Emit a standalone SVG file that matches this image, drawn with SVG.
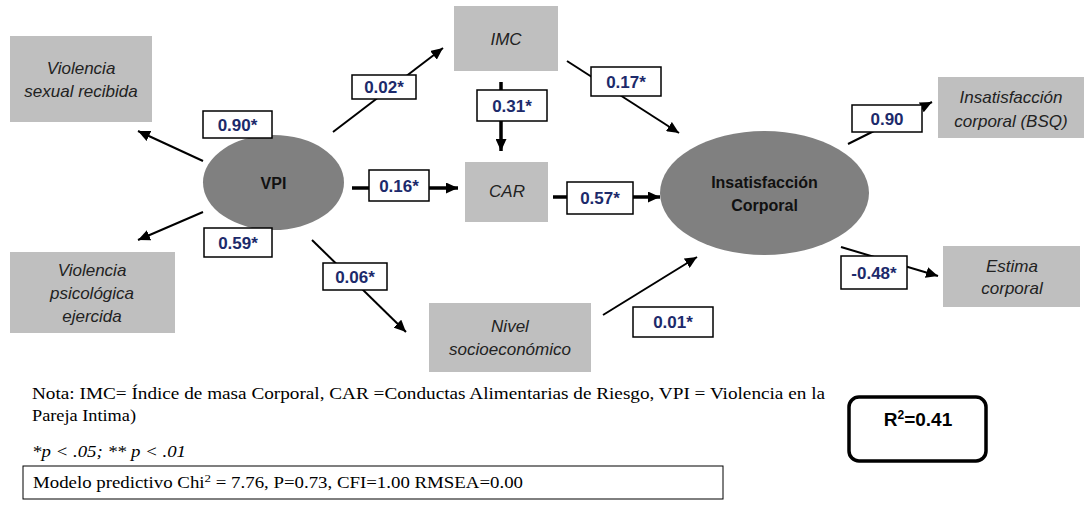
<svg xmlns="http://www.w3.org/2000/svg" width="1091" height="508" viewBox="0 0 1091 508">
<defs>
<marker id="ah" markerUnits="userSpaceOnUse" markerWidth="13" markerHeight="11" refX="12" refY="5.5" orient="auto">
<path d="M0,0 L12,5.5 L0,11 z" fill="#000"/>
</marker>
</defs>
<style>
.obs{fill:#bfbfbf}
.lat{fill:#808080}
.ot{font-family:"Liberation Sans",Arial,sans-serif;font-style:italic;font-size:17px;fill:#222;text-anchor:middle}
.lt{font-family:"Liberation Sans",Arial,sans-serif;font-weight:bold;font-size:16px;fill:#111;text-anchor:middle}
.lb{fill:#fff;stroke:#000;stroke-width:1.5}
.lbt{font-family:"Liberation Sans",Arial,sans-serif;font-weight:bold;font-size:17px;fill:#1c2a6b;text-anchor:middle}
.c{stroke:#000;stroke-width:2;fill:none}
.ck{stroke:#000;stroke-width:3.5;fill:none}
.nt{font-family:"Liberation Serif","Times New Roman",serif;font-size:16px;fill:#000}
</style>
<g id="connectors">
<line class="c" x1="203" y1="161" x2="138" y2="131" marker-end="url(#ah)"/>
<line class="c" x1="203" y1="212" x2="138" y2="240" marker-end="url(#ah)"/>
<line class="c" x1="333" y1="132" x2="443" y2="48" marker-end="url(#ah)"/>
<line class="ck" x1="352" y1="188" x2="458" y2="188" marker-end="url(#ah)"/>
<line class="c" x1="312" y1="240" x2="406" y2="332" marker-end="url(#ah)"/>
<line class="ck" x1="501" y1="82" x2="501" y2="151" marker-end="url(#ah)"/>
<line class="c" x1="567" y1="61" x2="679" y2="133" marker-end="url(#ah)"/>
<line class="ck" x1="553" y1="197" x2="660" y2="197" marker-end="url(#ah)"/>
<line class="c" x1="603" y1="315" x2="697" y2="257" marker-end="url(#ah)"/>
<line class="c" x1="848" y1="144" x2="932" y2="102" marker-end="url(#ah)"/>
<line class="c" x1="841" y1="247" x2="938" y2="276" marker-end="url(#ah)"/>
</g>
<g id="node-violencia-sexual">
<rect class="obs" x="10" y="36" width="142" height="86"/>
<text class="ot" x="81" y="74">Violencia</text>
<text class="ot" x="81" y="97">sexual recibida</text>
</g>
<g id="node-violencia-psicologica">
<rect class="obs" x="10" y="252" width="165" height="81"/>
<text class="ot" x="92" y="276">Violencia</text>
<text class="ot" x="92" y="299">psicológica</text>
<text class="ot" x="92" y="322">ejercida</text>
</g>
<g id="node-vpi">
<ellipse class="lat" cx="273.5" cy="182.5" rx="70.5" ry="47.5"/>
<text class="lt" x="273.5" y="189">VPI</text>
</g>
<g id="node-imc">
<rect class="obs" x="454" y="6" width="104" height="65"/>
<text class="ot" x="506" y="45">IMC</text>
</g>
<g id="node-car">
<rect class="obs" x="465" y="162" width="83" height="60"/>
<text class="ot" x="507" y="197">CAR</text>
</g>
<g id="node-nivel">
<rect class="obs" x="429" y="303" width="162" height="69"/>
<text class="ot" x="510" y="332">Nivel</text>
<text class="ot" x="510" y="355">socioeconómico</text>
</g>
<g id="node-insatisfaccion">
<ellipse class="lat" cx="764.5" cy="193" rx="104.5" ry="62"/>
<text class="lt" x="764.5" y="188">Insatisfacción</text>
<text class="lt" x="764.5" y="211">Corporal</text>
</g>
<g id="node-bsq">
<rect class="obs" x="938" y="77" width="146" height="61"/>
<text class="ot" x="1011" y="103">Insatisfacción</text>
<text class="ot" x="1011" y="127">corporal (BSQ)</text>
</g>
<g id="node-estima">
<rect class="obs" x="943" y="246" width="137" height="61"/>
<text class="ot" x="1012" y="272">Estima</text>
<text class="ot" x="1012" y="294">corporal</text>
</g>
<g id="labels">
<rect class="lb" x="203" y="111" width="69" height="27"/><text class="lbt" x="237.5" y="130.5">0.90*</text>
<rect class="lb" x="204" y="228" width="68" height="29"/><text class="lbt" x="238" y="248.5">0.59*</text>
<rect class="lb" x="352" y="75" width="64" height="24"/><text class="lbt" x="384" y="93">0.02*</text>
<rect class="lb" x="369" y="170" width="60" height="31"/><text class="lbt" x="399" y="191.5">0.16*</text>
<rect class="lb" x="323" y="263" width="64" height="27"/><text class="lbt" x="355" y="282.5">0.06*</text>
<rect class="lb" x="477" y="90" width="70" height="31"/><text class="lbt" x="512" y="111.5">0.31*</text>
<rect class="lb" x="591" y="67" width="70" height="29"/><text class="lbt" x="626" y="87.5">0.17*</text>
<rect class="lb" x="567" y="182" width="66" height="32"/><text class="lbt" x="600" y="204">0.57*</text>
<rect class="lb" x="633" y="307" width="80" height="30"/><text class="lbt" x="673" y="328">0.01*</text>
<rect class="lb" x="852" y="105" width="70" height="27"/><text class="lbt" x="887" y="124.5">0.90</text>
<rect class="lb" x="841" y="256" width="66" height="33"/><text class="lbt" x="874" y="278.5">-0.48*</text>
</g>
<g id="r2">
<rect x="849" y="397" width="137" height="64" rx="10" fill="#fff" stroke="#000" stroke-width="3.5"/>
<text x="918" y="426" font-family="Liberation Sans,Arial,sans-serif" font-weight="bold" font-size="19" text-anchor="middle" fill="#000">R<tspan font-size="12" dy="-7">2</tspan><tspan dy="7">=0.41</tspan></text>
</g>
<g id="notes">
<text class="nt" x="32" y="399" textLength="793" lengthAdjust="spacingAndGlyphs">Nota: IMC= Índice de masa Corporal, CAR =Conductas Alimentarias de Riesgo, VPI = Violencia en la</text>
<text class="nt" x="32" y="421" textLength="104" lengthAdjust="spacingAndGlyphs">Pareja Intima)</text>
<text class="nt" x="32" y="457" font-style="italic" textLength="154" lengthAdjust="spacingAndGlyphs">*p &lt; .05; ** p &lt; .01</text>
<rect x="23" y="466" width="700" height="33" fill="none" stroke="#000" stroke-width="1"/>
<text class="nt" x="33" y="488" textLength="490" lengthAdjust="spacingAndGlyphs">Modelo predictivo Chi<tspan font-size="11" dy="-6">2</tspan><tspan dy="6"> = 7.76, P=0.73, CFI=1.00 RMSEA=0.00</tspan></text>
</g>
</svg>
